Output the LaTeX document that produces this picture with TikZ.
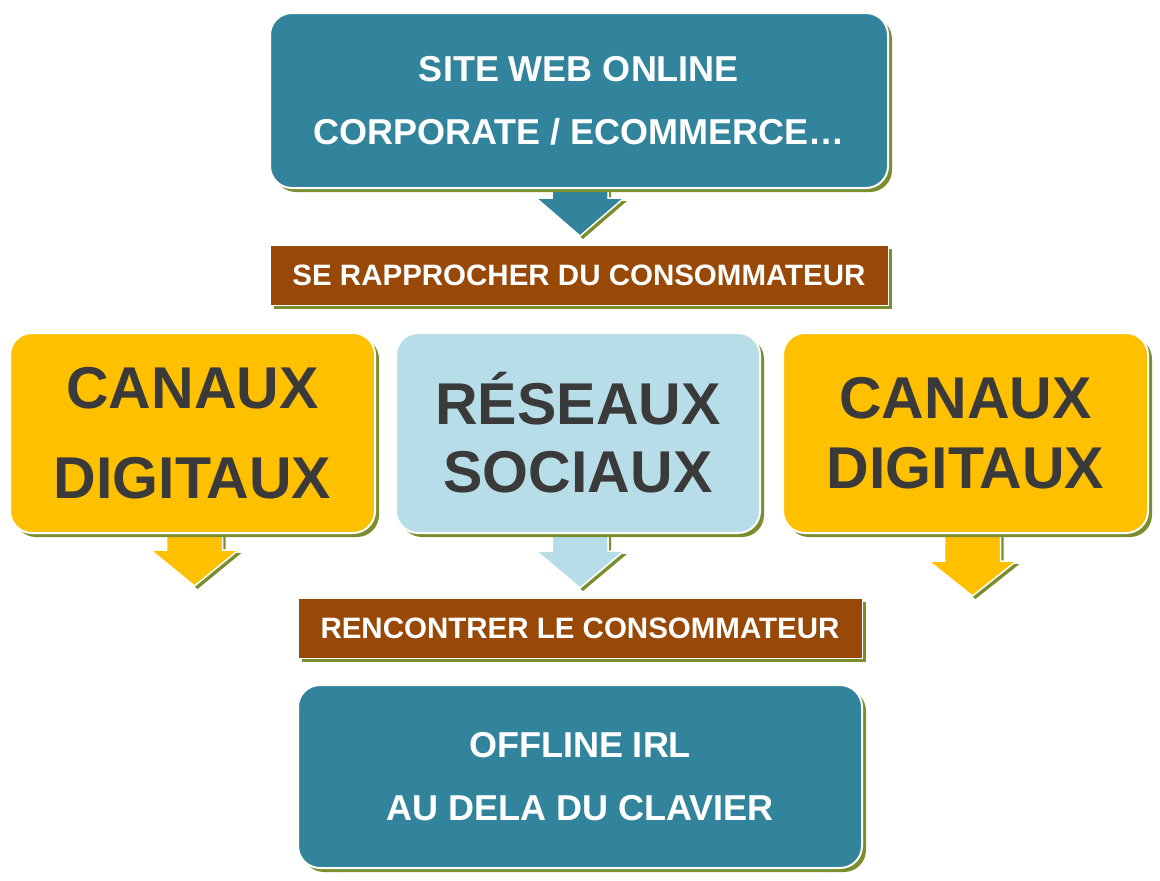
\documentclass[tikz,border=0pt]{standalone}
\usepackage{fontspec}
\setmainfont{Liberation Sans}
\usetikzlibrary{shadows,calc}
\pgfdeclarelayer{background}
\pgfsetlayers{background,main}
\definecolor{cteal}{HTML}{31849B}
\definecolor{cbrown}{HTML}{984807}
\definecolor{cyellow}{HTML}{FFC000}
\definecolor{cblue}{HTML}{B7DEE8}
\definecolor{cshadow}{HTML}{7A8E2E}
\definecolor{ctext}{HTML}{3A3A3A}
\newcommand\flowarrow[5]{%
  \begin{scope}[shift={($(#1.south)+(#3,0)$)}]
    \fill[cshadow] (-28+3,-5+3) -- (28+3,-5+3) -- (28+3,#4+3) -- (44+3,#4+3) -- (0+3,#5+3) -- (-44+3,#4+3) -- (-28+3,#4+3) -- cycle;
    \draw[fill=#2, draw=white, line width=1.5pt] (-28,-5) -- (28,-5) -- (28,#4) -- (44,#4) -- (0,#5) -- (-44,#4) -- (-28,#4) -- cycle;
  \end{scope}}
\begin{document}
\begin{tikzpicture}[x=1pt,y=-1pt,
  shadowed/.style={drop shadow={shadow xshift=4pt, shadow yshift=-4pt, fill=cshadow, opacity=1}},
  box/.style={shadowed, rounded corners=22pt, draw=white, line width=2pt, align=center, inner sep=0pt},
  tealbox/.style={box, fill=cteal, text=white, font=\fontsize{36}{63}\selectfont\bfseries},
  bigbox/.style={box, text=ctext, minimum width=365pt, minimum height=200pt},
  banner/.style={shadowed, fill=cbrown, draw=white, line width=1pt, text=white, inner sep=0pt, font=\fontsize{29.5}{36}\selectfont\bfseries}]
\node[tealbox, minimum width=618pt, minimum height=175pt] (site) at (579,100.5) {SITE WEB ONLINE\\CORPORATE / ECOMMERCE…};
\node[banner, minimum width=618pt, minimum height=60pt] (rapprocher) at (579,275) {SE RAPPROCHER DU CONSOMMATEUR};
\node[bigbox, fill=cyellow, font=\fontsize{59}{90}\selectfont\bfseries] (canauxA) at (192.5,433) {CANAUX\\DIGITAUX};
\node[bigbox, fill=cblue, minimum width=364pt, font=\fontsize{59}{68}\selectfont\bfseries] (reseaux) at (578,433) {RÉSEAUX\\SOCIAUX};
\node[bigbox, fill=cyellow, font=\fontsize{59}{70}\selectfont\bfseries] (canauxB) at (965.5,433) {CANAUX\\DIGITAUX};
\node[banner, minimum width=564pt, minimum height=60pt] (rencontrer) at (580,628) {RENCONTRER LE CONSOMMATEUR};
\node[tealbox, minimum width=564pt, minimum height=183pt] (offline) at (580,776.5) {OFFLINE IRL\\AU DELA DU CLAVIER};
\begin{pgfonlayer}{background}
  \fill[white] (0,0) rectangle (1160,881);
  \flowarrow{site}{cteal}{1}{9}{47}
  \flowarrow{canauxA}{cyellow}{2}{16}{52}
  \flowarrow{reseaux}{cblue}{2}{17}{54}
  \flowarrow{canauxB}{cyellow}{7}{27}{62}
\end{pgfonlayer}
\end{tikzpicture}
\end{document}
